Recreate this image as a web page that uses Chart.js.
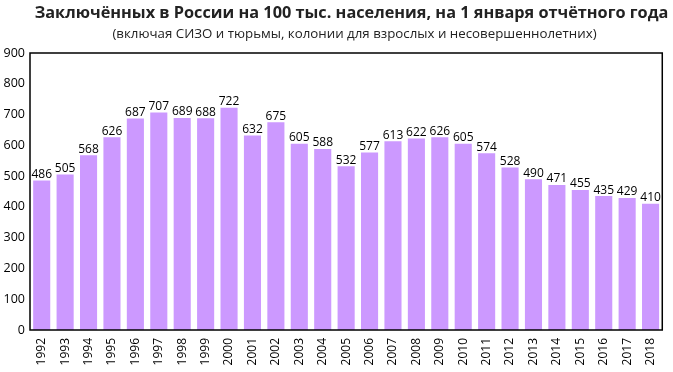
<!DOCTYPE html>
<html>
<head>
<meta charset="utf-8">
<script src="https://cdn.jsdelivr.net/npm/chart.js@4"></script>
<style>
    html, body { margin: 0; padding: 0; background: #fff; }
    #wrap { width: 673px; height: 372px; position: relative; }
</style>
</head>
<body>
<div id="wrap"><canvas id="prisonChart"></canvas></div>
<script>
// данные: годы и число заключённых на 100 тыс. населения
const years = ['1992', '1993', '1994', '1995', '1996', '1997', '1998', '1999', '2000',
    '2001', '2002', '2003', '2004', '2005', '2006', '2007', '2008', '2009', '2010',
    '2011', '2012', '2013', '2014', '2015', '2016', '2017', '2018'];
const prisoners = [486, 505, 568, 626, 687, 707, 689, 688, 722,
    632, 675, 605, 588, 532, 577, 613, 622, 626, 605,
    574, 528, 490, 471, 455, 435, 429, 410];
const yTicks = [0, 100, 200, 300, 400, 500, 600, 700, 800, 900];

const titleText = 'Заключённых в России на 100 тыс. населения, на 1 января отчётного года';
const subtitleText = '(включая СИЗО и тюрьмы, колонии для взрослых и несовершеннолетних)';

// заголовок и подзаголовок над графиком
const headerText = {
    id: 'headerText',
    afterDraw(chart) {
        const ctx = chart.ctx;
        ctx.save();
        ctx.fillStyle = '#222';
        ctx.textAlign = 'center';
        ctx.textBaseline = 'alphabetic';
        ctx.font = 'bold 16.3px "Open Sans"';
        ctx.fillText(titleText, 351.5, 18);
        ctx.font = '13.3px "Open Sans"';
        ctx.fillText(subtitleText, 354.5, 38);
        ctx.restore();
    }
};

// подписи значений над столбиками
const valueLabels = {
    id: 'valueLabels',
    afterDatasetsDraw(chart) {
        const ctx = chart.ctx;
        const meta = chart.getDatasetMeta(0);
        ctx.save();
        ctx.font = '12px "Open Sans"';
        ctx.fillStyle = '#000';
        ctx.textAlign = 'center';
        ctx.textBaseline = 'bottom';
        meta.data.forEach((bar, i) => {
            ctx.fillText(prisoners[i], bar.x, bar.y);
        });
        ctx.restore();
    }
};

// рамка вокруг области графика
const plotFrame = {
    id: 'plotFrame',
    afterDraw(chart) {
        const a = chart.chartArea;
        const ctx = chart.ctx;
        ctx.save();
        ctx.strokeStyle = '#000';
        ctx.lineWidth = 1.5;
        ctx.strokeRect(a.left, a.top, a.right - a.left, a.bottom - a.top);
        ctx.restore();
    }
};

new Chart(document.getElementById('prisonChart').getContext('2d'), {
    type: 'bar',
    data: {
        labels: years,
        datasets: [{
            data: prisoners,
            backgroundColor: '#cc99ff',
            borderWidth: 0,
            categoryPercentage: 0.73,
            barPercentage: 1.0
        }]
    },
    options: {
        responsive: true,
        maintainAspectRatio: false,
        animation: false,
        layout: { padding: { left: 0, right: 2, top: 53, bottom: 0 } },
        plugins: {
            legend: { display: false },
            tooltip: { enabled: false }
        },
        scales: {
            x: {
                grid: { display: false, drawTicks: false },
                border: { display: false },
                afterFit(axis) { axis.height = 42; },
                ticks: {
                    color: '#000',
                    font: { family: '"Open Sans"', size: 12 },
                    maxRotation: 90,
                    minRotation: 90,
                    autoSkip: false,
                    padding: 8
                }
            },
            y: {
                min: 0,
                max: 900,
                afterBuildTicks(axis) {
                    axis.ticks = yTicks.map(v => ({ value: v }));
                },
                afterFit(axis) { axis.width = 30; },
                grid: { display: false, drawTicks: false },
                border: { display: false },
                ticks: {
                    color: '#000',
                    font: { family: '"Open Sans"', size: 12.5 },
                    padding: 5
                }
            }
        }
    },
    plugins: [valueLabels, plotFrame, headerText]
});
</script>
</body>
</html>
